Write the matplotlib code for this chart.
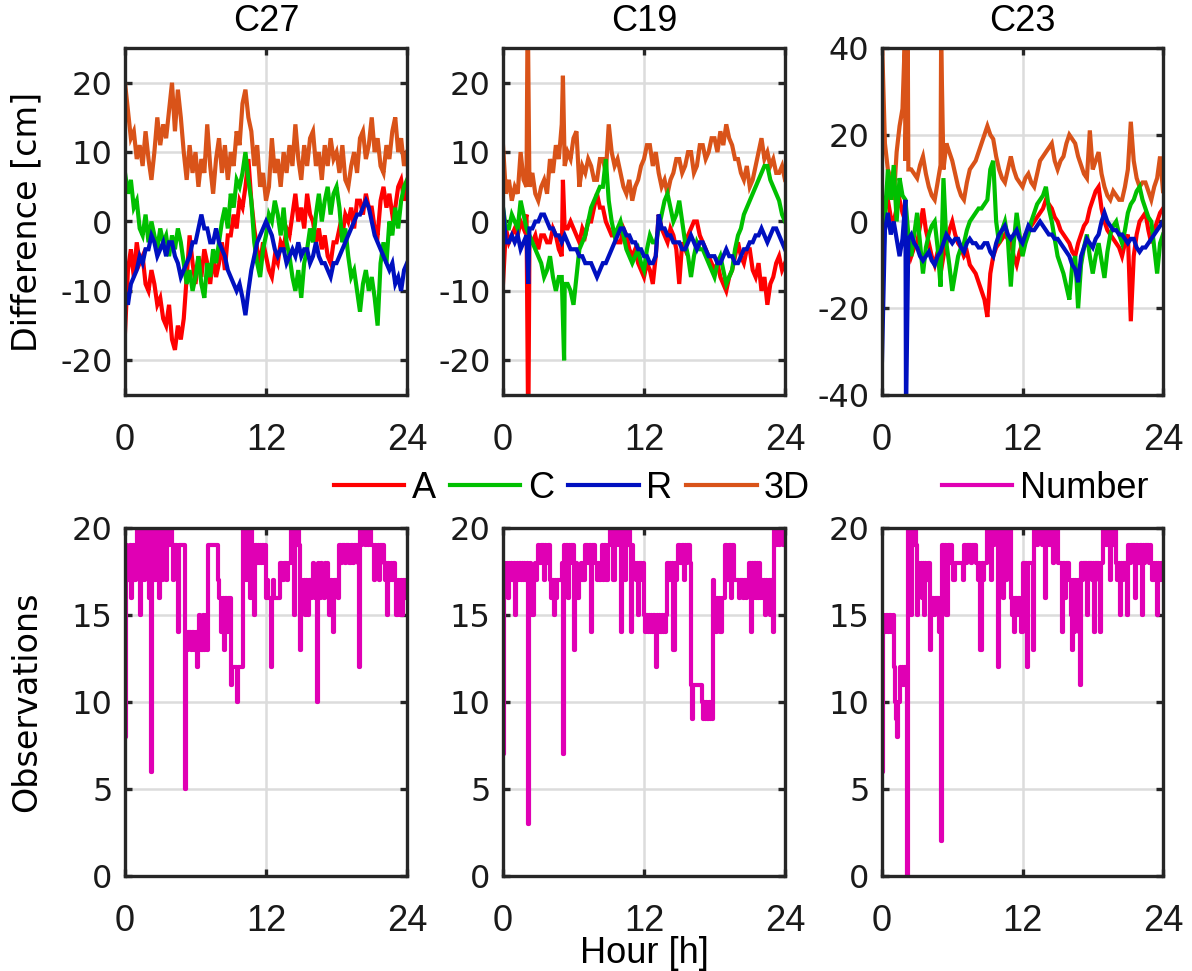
import numpy as np
import matplotlib
matplotlib.use("Agg")
import matplotlib.pyplot as plt
from matplotlib.lines import Line2D

plt.rcParams['axes.unicode_minus'] = False

# ---------------- data ----------------
sats = ["C27", "C19", "C23"]
diff_step_h = 0.25   # sampling of the difference series [h]
obs_step_h = 0.1     # sampling of observation counts [h]

# C27 differences [cm], every 0.25 h
C27_3D = [20,16,12,13, 9,11,8,13, 9,6,10,15, 11,14,12,16, 20,13,19,15, 10,6,11,7,
          10,5,9,7, 14,8,4,9, 12,7,11,6, 10,8,13,11, 17,19,15,13, 8,11,5,7,
          3,5,12,7, 9,5,10,7, 11,8,14,9, 6,11,8,12, 13,8,10,6, 11,8,12,9,
          10,7,11,6, 5,8,10,7, 12,13,9,11, 15,10,12,8, 7,11,9,13, 15,10,12,8, 10]
C27_A = [-16,-7,-4,-8, -3,-6,-5,-9, -10,-7,-9,-12, -11,-14,-15,-12, -17,-18.5,-15,-17,
         -14,-8,-2,-6, -9,-5,-8,-4, -6,-9,-5,-8, -6,-3,-7,-2, -2,1,-1,3, 2,5,9,3,
         -1,-4,-6,-3, -5,-7,-8,-5, -6,-3,-4,-1, -2,1,4,0, 2,-1,4,1, 0,-3,-1,-4,
         -2,-5,-6,-3, -3,-1,-2,1, 0,2,-1,3, 3,1,4,2, 2,-1,-2,3, 5,2,4,1, 2,5,6,3, 5]
C27_C = [7,4,6,2, 3,-1,-2,1, -3,0,-2,-4, -1,-3,-2,-5, -2,-4,-1,-3, -6,-9,-7,-10,
         -8,-5,-9,-11, -6,-8,-4,-6, -3,0,2,-1, 4,2,6,5, 7,10,6,3, -3,-6,-8,-4,
         -2,1,0,3, 1,-2,2,-3, -5,-8,-10,-7, -11,-6,-4,-1, -3,1,4,0, 3,5,1,4,
         5,2,-3,-1, -5,-8,-7,-10, -13,-9,-7,-10, -8,-11,-15,-6, -3,-6,0,-2, 2,-1,3,5, 6]
C27_R = [-10,-12,-9,-8, -7,-5,-6,-4, -4,-2,-3,-5, -4,-3,-5,-3, -3,-5,-6,-8, -7,-6,-5,-3,
         -3,-1,1,-1, -1,-3,-3,-1, -3,-4,-5,-7, -8,-9,-10,-9, -11,-13.5,-10,-7, -5,-3,-2,-1,
         0,-1,-2,-4, -5,-4,-4,-6, -5,-4,-5,-3, -5,-4,-4,-6, -5,-3,-5,-6, -6,-7,-8,-6,
         -6,-5,-4,-3, -2,-1,0,1, 1,2,3,2, 0,-2,-3,-4, -5,-6,-7,-6, -9,-8,-10,-7, -6]

# C19 differences [cm]
C19_3D = [11,4,6,3, 5,4,10,6, 5,5,7,4, 3,5,6,4, 9,7,11,9, 14,8,10,9, 12,13,5,8,
          7,9,8,6, 6,9,9,7, 14,10,8,9, 7,5,4,6, 3,5,6,8, 9,11,11,8, 10,7,5,6,
          4,6,7,9, 9,7,8,10, 10,7,8,11, 11,9,10,12, 12,10,13,11, 14,12,11,9,
          9,7,6,8, 5,6,8,10, 12,9,10,8, 9,7,7,8, 6]
C19_A = [-9,-1,-3,-2, -1,-2,0,-1, 1,-3,-3,-2, -4,-2,-2,-3, -3,-1,-2,-4, -5,-1,-1,0,
         -1,-2,-3,-1, -2,0,0,2, 4,2,2,0, -1,-2,-2,-3, -3,-1,-2,-4, -5,-4,-6,-7,
         -8,-6,-7,-9, -5,1,-1,-2, -3,-1,-2,-4, -9,-3,-4,-2, -1,0,0,-2, -3,-4,-5,-6,
         -7,-6,-8,-9, -10,-8,-7,-5, -3,-5,-6,-4, -4,-7,-8,-6, -10,-8,-12,-9, -8,-6,-5,-7, -6]
C19_C = [2,-1,-1,1, 0,-1,3,1, -1,-2,-3,-4, -5,-6,-8,-7, -5,-8,-10,-8, -8,-9,-9,-10,
         -12,-8,-4,-3, -2,0,2,3, 4,5,5,9, 3,0,-2,-1, 0,-2,-4,-5, -6,-5,-4,-6,
         -7,-4,-2,-3, -3,-1,1,3, 4,2,0,1, 3,0,-3,-5, -8,-5,-3,-4, -4,-5,-6,-7,
         -8,-6,-5,-7, -9,-8,-7,-4, -2,-1,1,2, 3,4,5,6, 7,8,8,6, 5,4,3,1, 0]
C19_R = [2,-3,-3,-2, -3,-2,-4,-3, -2,-1,-1,0, 0,1,1,0, -1,-1,-2,-2, -3,-2,-3,-4,
         -4,-4,-5,-5, -6,-6,-6,-7, -8,-7,-6,-6, -5,-4,-3,-2, -1,-1,-2,-2, -3,-3,-4,-4,
         -5,-5,-6,-6, -5,1,-1,-1, -2,-2,-3,-3, -3,-4,-4,-3, -2,-3,-4,-3, -3,-4,-5,-5,
         -5,-6,-6,-5, -4,-5,-5,-6, -6,-5,-4,-4, -3,-3,-2,-2, -1,-2,-3,-2, -1,-1,-2,-3, -4]

# C23 differences [cm]
C23_3D = [42,18,12,10, 5,16,22,26, 14,12,12,11, 10,13,15,11, 8,6,5,9, 13,12,18,16,
          14,11,8,6, 5,9,12,13, 14,16,18,20, 22,20,19,15, 12,10,9,12, 15,12,10,9,
          8,10,11,9, 8,11,14,15, 16,17,18,14, 12,14,15,18, 20,19,18,15, 13,11,10,21,
          12,14,16,11, 8,6,5,7, 6,5,5,8, 12,23,14,10, 8,9,9,7, 5,8,10,15, 7]
C23_A = [6,3,5,1, 0,3,5,2, 0,-4,-8,-6, -5,-1,3,-2, -5,-8,-10,-7, -12,-8,-5,-2,
         0,-3,-5,-6, -8,-7,-10,-11, -12,-14,-16,-18, -22,-12,-8,-6, -5,-4,-3,-4, -5,-8,-10,-7,
         -5,-3,-2,-1, 0,1,2,3, 5,4,3,1, 0,-2,-3,-4, -5,-7,-8,-5, -3,-1,0,3,
         5,7,8,3, 0,-2,-3,-4, -5,-6,-8,-5, -3,-23,-8,-3, 0,1,2,-2, -5,-2,0,2, 3]
C23_C = [8,0,12,5, 13,0,10,6, 5,-3,-8,-3, 2,-5,-12,-6, -3,-1,0,-6, -15,10,-5,-10,
         -16,-12,-8,-6, -5,-2,0,1, 2,3,3,4, 5,12,14,0, -5,-2,0,-4, -15,-5,2,-3,
         -8,-5,-3,0, 2,4,5,6, 8,3,0,-4, -8,-10,-12,-15, -18,-10,-8,-20, -10,-6,-3,-8,
         -12,-8,-5,-9, -13,-7,-3,-1, 0,-3,-5,-2, 2,4,5,7, 8,5,3,1, 0,-6,-12,-5, -3]
C23_R = [-32,-2,2,-3, 0,-4,-8,-4, 5,-4,-3,-5, -6,-8,-9,-8, -7,-9,-10,-8, -7,-5,-3,-4,
         -5,-4,-4,-6, -7,-5,-4,-5, -5,-6,-6,-5, -5,-7,-8,-5, -3,-2,-1,-3, -4,-3,-2,-4,
         -5,-3,-1,-2, -2,-1,0,-1, -2,-3,-3,-4, -4,-5,-6,-7, -8,-10,-11,-14, -8,-6,-4,-5,
         -6,-4,-3,0, 2,0,-1,-2, -2,-3,-3,-4, -5,-4,-4,-6, -7,-6,-6,-5, -4,-3,-2,-1, 0]

# short spikes between samples: (hour, value)
spikes = {
    ("C19", "3D"): [(2.1, 32), (5.1, 21)],
    ("C19", "A"): [(2.15, -32), (5.1, 6)],
    ("C19", "C"): [(5.2, -20)],
    ("C19", "R"): [(2.15, -9)],
    ("C23", "3D"): [(1.95, 42), (2.2, 42), (5.05, 42)],
    ("C23", "C"): [(0.1, -10)],
    ("C23", "R"): [(2.05, -45)],
}

diff = {
    "C27": {"A": C27_A, "C": C27_C, "R": C27_R, "3D": C27_3D},
    "C19": {"A": C19_A, "C": C19_C, "R": C19_R, "3D": C19_3D},
    "C23": {"A": C23_A, "C": C23_C, "R": C23_R, "3D": C23_3D},
}

# number of observations, every 0.1 h (one row per hour)
C27_N = [8,19,17,18,19,16,18,19,17,19, 20,18,20,15,19,20,17,20,19,20,
         16,20,6,19,20,17,20,19,20,16, 20,17,20,19,20,17,20,19,20,20,
         19,17,19,19,18,14,19,19,19,19, 19,5,14,13,14,14,13,14,14,13,
         14,12,14,15,14,13,15,13,14,15, 13,19,19,19,19,19,19,19,19,17,
         16,16,14,16,13,16,16,14,16,16, 11,12,12,12,12,10,12,12,12,12,
         20,19,20,17,20,19,16,20,19,17, 15,19,18,19,18,19,18,19,18,19,
         16,17,16,16,12,16,17,16,16,16, 16,16,18,18,17,18,18,18,17,18,
         18,20,19,20,15,20,19,20,19,13, 17,16,17,15,17,16,15,17,16,17,
         18,17,16,10,18,17,16,18,17,16, 18,17,18,17,15,17,16,14,17,17,
         17,16,19,19,18,19,19,18,19,19, 19,18,19,19,18,19,19,19,18,12,
         20,19,20,20,19,20,20,19,20,19, 19,19,17,19,18,19,17,19,19,19,
         18,17,18,15,18,17,18,17,18,18, 17,15,17,16,15,17,15,17,16,17, 17]
C19_N = [7,18,17,18,16,18,17,18,17,18, 15,17,18,17,18,17,18,17,18,17,
         18,3,17,18,17,15,17,18,17,18, 19,18,19,19,19,17,19,18,19,19,
         17,16,17,15,17,16,17,17,17,17, 18,7,19,18,19,16,19,18,19,19,
         13,17,18,17,16,17,18,17,17,17, 19,19,18,19,19,14,19,19,18,18,
         17,18,17,18,19,17,19,19,17,19, 19,20,19,20,17,20,19,20,20,19,
         14,20,19,20,17,20,19,20,19,14, 19,18,18,17,18,15,18,18,17,18,
         15,14,15,14,15,14,15,14,15,14, 12,15,14,15,14,15,14,15,14,15,
         18,17,18,17,18,13,18,17,18,19, 19,18,19,19,17,19,18,19,19,18,
         11,9,11,11,11,11,11,11,11,10, 9,10,9,10,9,10,9,10,9,17,
         16,14,16,15,16,14,16,16,16,19, 19,17,19,19,16,19,19,17,17,17,
         17,16,17,17,16,17,17,16,17,18, 18,14,18,16,18,16,18,16,18,16,
         17,16,17,15,17,16,17,15,17,17, 14,20,19,20,20,19,20,20,19,20, 20]
C23_N = [6,15,14,15,15,14,15,15,14,15, 12,10,9,8,10,12,11,12,11,12,
         12,0,20,19,20,15,20,19,20,19, 15,18,17,18,16,18,15,18,17,18,
         18,13,16,16,15,16,16,16,16,14, 2,19,19,18,19,15,19,19,18,19,
         18,17,18,18,18,18,18,18,18,17, 19,19,18,19,19,19,18,19,19,19,
         18,18,17,18,13,18,17,18,18,18, 20,19,20,17,20,19,20,20,19,12,
         20,19,20,16,20,19,17,20,19,20, 16,15,16,14,16,15,16,16,15,14,
         18,18,18,18,12,18,18,18,18,13, 20,20,19,20,20,20,20,19,20,16,
         20,20,20,19,20,20,18,20,20,20, 18,18,18,18,14,18,16,18,18,18,
         17,15,13,17,14,17,15,17,14,11, 18,17,18,18,18,15,18,18,18,17,
         18,14,18,18,18,17,14,18,18,20, 20,19,20,20,20,17,20,19,20,20,
         18,17,18,15,18,17,18,18,17,15, 19,19,18,19,19,19,16,19,19,18,
         19,19,15,19,18,19,19,19,18,19, 18,17,18,17,18,15,18,17,18,17, 17]
obs = {"C27": C27_N, "C19": C19_N, "C23": C23_N}

series_names = ["A", "C", "R", "3D"]
colors = {"A": "#FF0000", "C": "#00C000", "R": "#0010C0", "3D": "#D95319"}
num_color = "#E000B4"
diff_ylims = {"C27": (-25, 25), "C19": (-25, 25), "C23": (-40, 40)}
diff_yticks = {"C27": [-20, -10, 0, 10, 20], "C19": [-20, -10, 0, 10, 20],
               "C23": [-40, -20, 0, 20, 40]}
obs_yticks = [0, 5, 10, 15, 20]
xticks = [0, 12, 24]

# ---------------- figure ----------------
W, H = 1192, 971
fig = plt.figure(figsize=(W / 100, H / 100), dpi=100)

lefts = [125, 503, 882]
widths = [282, 282, 281]
top_box = (48, 395)
bot_box = (528, 876)

spine_c = "#262626"
grid_c = "#DCDCDC"
lw_data = 3.0

tick_font = "Liberation Sans"
ytick_font = "DejaVu Sans"


def style_axes(ax, yticks):
    ax.set_xlim(0, 24)
    ax.set_xticks(xticks)
    ax.set_yticks(yticks)
    ax.grid(True, color=grid_c, linewidth=1.8)
    ax.set_axisbelow(True)
    for s in ax.spines.values():
        s.set_linewidth(2.4)
        s.set_color(spine_c)
    ax.tick_params(direction="in", length=5, width=2.4, color=spine_c,
                   top=True, right=True)
    ax.tick_params(axis="x", pad=20)
    ax.tick_params(axis="y", pad=9)
    for lab in ax.get_xticklabels():
        lab.set_fontfamily(tick_font)
        lab.set_fontsize(26)
        lab.set_color("#1a1a1a")
    for lab in ax.get_yticklabels():
        lab.set_fontfamily(ytick_font)
        lab.set_fontsize(23)
        lab.set_color("#1a1a1a")


top_axes = []
bot_axes = []
for i, sat in enumerate(sats):
    l = lefts[i] / W
    w = widths[i] / W
    ax = fig.add_axes([l, 1 - top_box[1] / H, w, (top_box[1] - top_box[0]) / H])
    for name in ["3D", "A", "C", "R"]:
        vals = np.array(diff[sat][name], dtype=float)
        hrs = np.arange(len(vals)) * diff_step_h
        for (th, tv) in spikes.get((sat, name), []):
            k = np.searchsorted(hrs, th)
            hrs = np.insert(hrs, k, th)
            vals = np.insert(vals, k, tv)
        ax.plot(hrs, vals, color=colors[name], lw=lw_data, solid_joinstyle="miter")
    ax.set_ylim(*diff_ylims[sat])
    style_axes(ax, diff_yticks[sat])
    ax.set_title(sat, fontfamily="Liberation Sans", fontsize=26, pad=12)
    top_axes.append(ax)

    axb = fig.add_axes([l, 1 - bot_box[1] / H, w, (bot_box[1] - bot_box[0]) / H])
    n = np.array(obs[sat], dtype=float)
    hrs_n = np.arange(len(n)) * obs_step_h
    axb.plot(hrs_n, n, color=num_color, lw=lw_data, drawstyle="steps-post")
    axb.set_ylim(0, 20)
    style_axes(axb, obs_yticks)
    bot_axes.append(axb)

top_axes[0].set_ylabel("Difference [cm]", fontfamily="DejaVu Sans", fontsize=24)
bot_axes[0].set_ylabel("Observations", fontfamily="DejaVu Sans", fontsize=24)
top_axes[0].yaxis.set_label_coords(-0.29, 0.5)
bot_axes[0].yaxis.set_label_coords(-0.29, 0.5)
bot_axes[1].set_xlabel("Hour [h]", fontfamily="Liberation Sans", fontsize=26,
                       labelpad=-2)

# legends
handles = [Line2D([], [], color=colors[s], lw=lw_data) for s in series_names]
leg1 = fig.legend(handles, series_names, loc="center", ncol=4,
                  bbox_to_anchor=(572 / W, 1 - 488 / H), frameon=False,
                  prop={"family": "Liberation Sans", "size": 26},
                  handlelength=1.95, handletextpad=0.2, columnspacing=0.4,
                  borderpad=0, borderaxespad=0)
leg2 = fig.legend([Line2D([], [], color=num_color, lw=lw_data)], ["Number"],
                  loc="center", bbox_to_anchor=(1045 / W, 1 - 488 / H),
                  frameon=False, prop={"family": "Liberation Sans", "size": 26},
                  handlelength=1.95, handletextpad=0.2, borderpad=0,
                  borderaxespad=0)

fig.savefig("out.png", dpi=100)
